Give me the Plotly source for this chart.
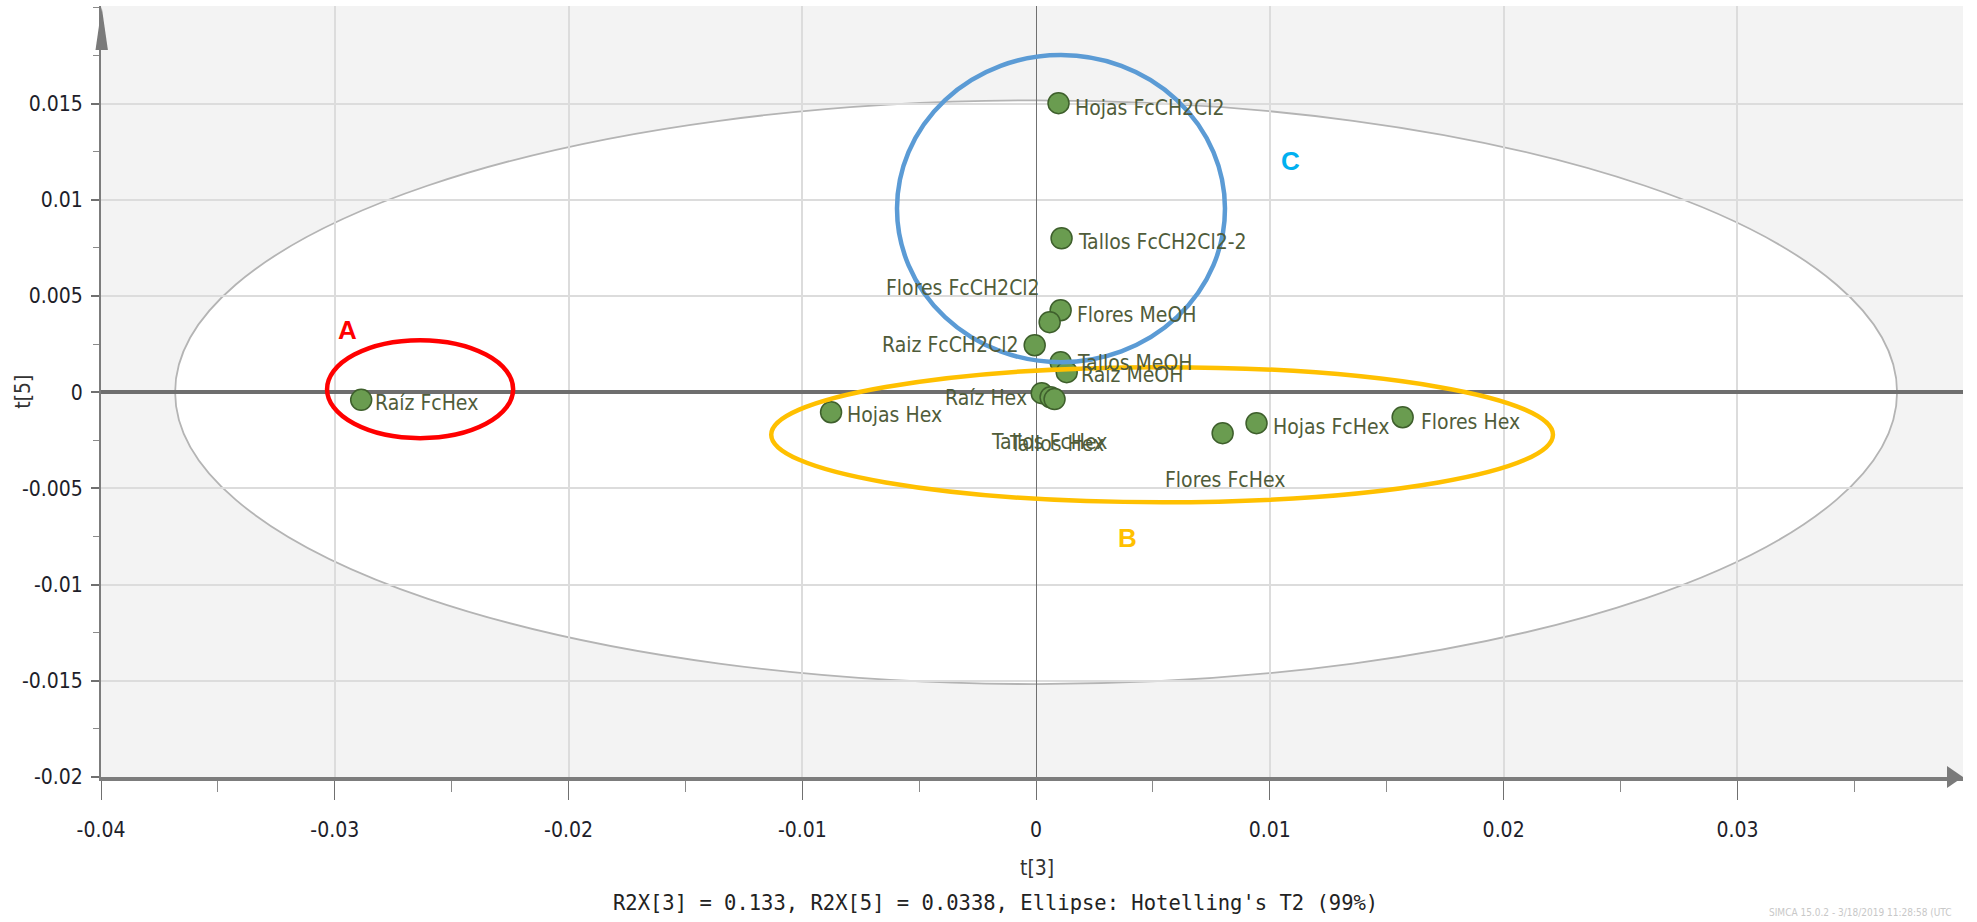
import plotly.graph_objects as go

# ---------------- data ----------------
labels = ["Raíz FcHex", "Hojas Hex", "Hojas FcCH2Cl2", "Tallos FcCH2Cl2-2", "Flores MeOH",
          "Flores FcCH2Cl2", "Raiz FcCH2Cl2", "Tallos MeOH", "Raíz MeOH", "Raíz Hex",
          "Tallos FcHex", "Tallos Hex", "Flores FcHex", "Hojas FcHex", "Flores Hex"]
t3 = [-0.02887, -0.00877, 0.00096, 0.00109, 0.00105,
      0.00058, -0.00006, 0.00105, 0.00131, 0.00024,
      0.00062, 0.00079, 0.00798, 0.00943, 0.01568]
t5 = [-0.00040, -0.00104, 0.01502, 0.00800, 0.00426,
      0.00364, 0.00244, 0.00156, 0.00104, -0.00005,
      -0.00026, -0.00036, -0.00213, -0.00161, -0.00130]

x_tickvals = [-0.04, -0.03, -0.02, -0.01, 0, 0.01, 0.02, 0.03]
x_ticktext = ["-0.04", "-0.03", "-0.02", "-0.01", "0", "0.01", "0.02", "0.03"]
y_tickvals = [-0.02, -0.015, -0.01, -0.005, 0, 0.005, 0.01, 0.015]
y_ticktext = ["-0.02", "-0.015", "-0.01", "-0.005", "0", "0.005", "0.01", "0.015"]

# Hotelling's T2 (99%) ellipse semi-axes
ellipse_a = 0.03683
ellipse_b = 0.01517

# highlight groups (x0, x1, y0, y1) and letters
group_boxes = {
    "A": (-0.03033, -0.02237, -0.00239, 0.00270),
    "B": (-0.01133, 0.02211, -0.00572, 0.00130),
    "C": (-0.00595, 0.00808, 0.00156, 0.01752),
}
group_letter_pos = {"A": (-0.02947, 0.00322), "B": (0.00393, -0.00759), "C": (0.01087, 0.01200)}

# ---------------- styling ----------------
W, H = 1977, 922
ML, MR, MT, MB = 101, 14, 6, 145
NARROW = "Liberation Sans Narrow, DejaVu Sans Condensed, Arial Narrow, sans-serif"
label_color = "#505c3a"
group_colors = {"A": "#ff0000", "B": "#ffc000", "C": "#5b9bd5"}
letter_colors = {"A": "#ff0000", "B": "#ffc000", "C": "#00b0f0"}

# label placement (xanchor, xshift px, yshift px)
label_place = {
    "Raíz FcHex": ("left", 12, -3),
    "Hojas Hex": ("left", 14, -3),
    "Hojas FcCH2Cl2": ("left", 14, -5),
    "Tallos FcCH2Cl2-2": ("left", 14, -4),
    "Flores MeOH": ("left", 14, -5),
    "Flores FcCH2Cl2": ("right", -8, 34),
    "Raiz FcCH2Cl2": ("right", -14, 0),
    "Tallos MeOH": ("left", 14, -1),
    "Raíz MeOH": ("left", 12, -3),
    "Raíz Hex": ("right", -13, -5),
    "Tallos FcHex": ("center", -2, -45),
    "Tallos Hex": ("center", 2, -45),
    "Flores FcHex": ("center", 2, -47),
    "Hojas FcHex": ("left", 14, -4),
    "Flores Hex": ("left", 16, -5),
}

fig = go.Figure()
fig.add_trace(go.Scatter(
    x=t3, y=t5, mode="markers",
    marker=dict(size=21, color="#6a9c50", line=dict(color="#3e5f2c", width=1.5)),
    hoverinfo="text", text=labels, showlegend=False,
))

annotations = []
for name, xv, yv in zip(labels, t3, t5):
    anc, xs, ys = label_place[name]
    annotations.append(dict(
        x=xv, y=yv, xref="x", yref="y", text=name, showarrow=False,
        xanchor=anc, yanchor="middle", xshift=xs, yshift=ys,
        font=dict(family=NARROW, size=21, color=label_color),
    ))

for k, (lx, ly) in group_letter_pos.items():
    annotations.append(dict(
        x=lx, y=ly, xref="x", yref="y", text=f"<b>{k}</b>", showarrow=False,
        font=dict(family="Liberation Sans, Arial, sans-serif", size=26, color=letter_colors[k]),
    ))

# axis titles and footer
annotations.append(dict(x=0.5025, y=-0.118, xref="paper", yref="paper", text="t[3]",
                        showarrow=False, yanchor="middle",
                        font=dict(family=NARROW, size=21, color="#333333")))
annotations.append(dict(x=0.4805, y=-0.1634, xref="paper", yref="paper",
                        text="R2X[3] = 0.133, R2X[5] = 0.0338, Ellipse: Hotelling's T2 (99%)",
                        showarrow=False, yanchor="middle",
                        font=dict(family="DejaVu Sans Mono, Liberation Mono, monospace", size=20.5, color="#222222")))
annotations.append(dict(x=-0.0423, y=0.5, xref="paper", yref="paper", text="t[5]",
                        showarrow=False, textangle=-90, xanchor="center", yanchor="middle",
                        font=dict(family=NARROW, size=21, color="#333333")))
annotations.append(dict(x=0.995, y=-0.176, xref="paper", yref="paper",
                        text="SIMCA 15.0.2 - 3/18/2019 11:28:58 (UTC",
                        showarrow=False, xanchor="right", yanchor="middle",
                        font=dict(family=NARROW, size=10, color="#c8c8c8")))

shapes = []
# Hotelling ellipse (white fill, below grid)
shapes.append(dict(type="circle", xref="x", yref="y",
                   x0=-ellipse_a, x1=ellipse_a, y0=-ellipse_b, y1=ellipse_b,
                   fillcolor="white", line=dict(color="#b4b4b4", width=1.8), layer="below"))
# group highlight ellipses
for k, (x0, x1, y0, y1) in group_boxes.items():
    shapes.append(dict(type="circle", xref="x", yref="y", x0=x0, x1=x1, y0=y0, y1=y1,
                       line=dict(color=group_colors[k], width=4.5), fillcolor="rgba(0,0,0,0)",
                       layer="above"))

# axis arrowheads (pixel geometry in paper coordinates)
pw = W - ML - MR
ph = H - MT - MB
def px(xp):
    return (xp - ML) / pw
def py(yp):
    return (H - MB - yp) / ph
shapes.append(dict(type="path", xref="paper", yref="paper",
                   path=f"M {px(101.7)} {py(7)} L {px(95.5)} {py(50)} L {px(107.9)} {py(50)} Z",
                   fillcolor="#7a7a7a", line=dict(width=0), layer="above"))
shapes.append(dict(type="path", xref="paper", yref="paper",
                   path=f"M {px(1963)} {py(777)} L {px(1947)} {py(766)} L {px(1947)} {py(788)} Z",
                   fillcolor="#7a7a7a", line=dict(width=0), layer="above"))

fig.update_layout(
    width=W, height=H,
    margin=dict(l=ML, r=MR, t=MT, b=MB),
    paper_bgcolor="white", plot_bgcolor="#f3f3f3",
    annotations=annotations, shapes=shapes,
    showlegend=False,
)
fig.update_xaxes(
    range=[-0.04, 0.03965], tickvals=x_tickvals, ticktext=x_ticktext,
    showgrid=True, gridcolor="#dcdcdc", gridwidth=1.5,
    zeroline=True, zerolinecolor="#707070", zerolinewidth=1.2,
    showline=True, linecolor="#7c7c7c", linewidth=4,
    ticks="outside", ticklen=19, tickwidth=1.2, tickcolor="#707070",
    ticklabelstandoff=12,
    minor=dict(dtick=0.005, tick0=0, ticks="outside", ticklen=11, tickcolor="#8a8a8a", tickwidth=1, showgrid=False),
    tickfont=dict(family=NARROW, size=21, color="#1e1e2a"),
)
fig.update_yaxes(
    range=[-0.02, 0.02007], tickvals=y_tickvals, ticktext=y_ticktext,
    showgrid=True, gridcolor="#dcdcdc", gridwidth=1.5,
    zeroline=True, zerolinecolor="#6e6e6e", zerolinewidth=4,
    showline=True, linecolor="#7c7c7c", linewidth=2,
    ticks="outside", ticklen=8, tickwidth=1.5, tickcolor="#707070",
    ticklabelstandoff=4,
    minor=dict(dtick=0.0025, tick0=0, ticks="outside", ticklen=6, tickcolor="#8a8a8a", tickwidth=1, showgrid=False),
    tickfont=dict(family=NARROW, size=21, color="#1e1e2a"),
)

fig.write_html("out.html", config={"displayModeBar": False},
               post_script="document.body.style.margin='0';document.body.style.overflow='hidden';")
